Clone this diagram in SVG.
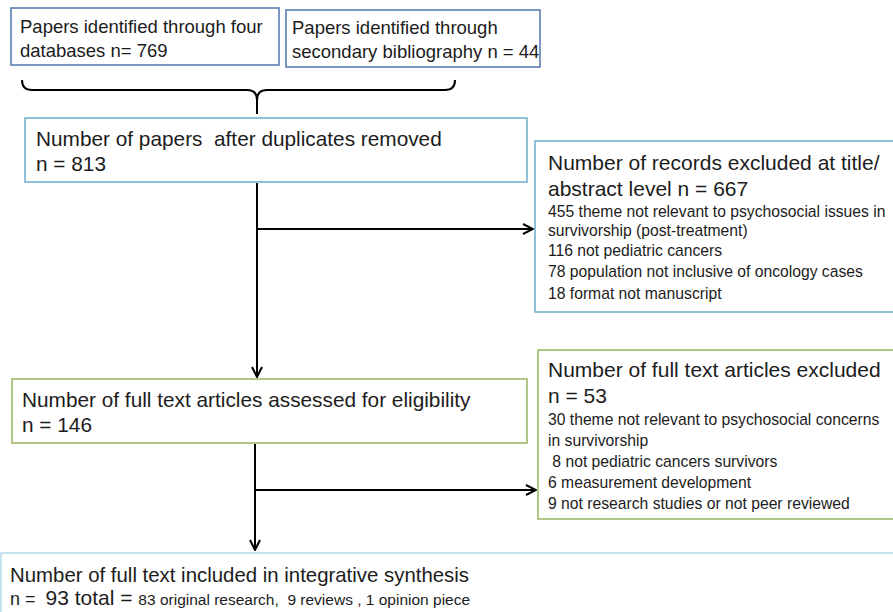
<svg xmlns="http://www.w3.org/2000/svg" width="893" height="612" viewBox="0 0 893 612">
<style>
  text { font-family: "Liberation Sans", Arial, sans-serif; fill: #1c1c1c; white-space: pre; }
  .t18 { font-size: 18.5px; }
  .t20 { font-size: 20.8px; }
  .t21 { font-size: 21px; }
  .s { font-size: 15.7px; }
  .bx { fill: #ffffff; stroke-width: 1.6; }
  .blue { stroke: #5a7db3; }
  .teal { stroke: #72b1cf; }
  .green { stroke: #9fba6a; }
  .lblue { stroke: #b5dbea; }
  .conn { fill: none; stroke: #000; stroke-width: 2; }
</style>
<defs>
  <marker id="arr" viewBox="0 0 12 12" refX="11" refY="6" markerWidth="12" markerHeight="12" markerUnits="userSpaceOnUse" orient="auto">
    <path d="M1,1 L11,6 L1,11" fill="none" stroke="#000" stroke-width="2"/>
  </marker>
</defs>
<rect width="893" height="612" fill="#ffffff"/>

<g id="connectors">
  <path class="conn" d="M22,80 Q22,90 32,90 L247,90 Q257,90 257,100 L257,114 M257,100 Q257,90 267,90 L445,90 Q455,90 455,80"/>
  <path class="conn" d="M257,183 L257,377" marker-end="url(#arr)"/>
  <path class="conn" d="M257,229 L533,229" marker-end="url(#arr)"/>
  <path class="conn" d="M255,444 L255,550" marker-end="url(#arr)"/>
  <path class="conn" d="M255,490 L536,490" marker-end="url(#arr)"/>
</g>

<g id="databases">
  <rect class="bx blue" x="11" y="8" width="268" height="57"/>
  <text class="t18" x="20" y="33">Papers identified through four</text>
  <text class="t18" x="20" y="57">databases n= 769</text>
</g>

<g id="secondary">
  <rect class="bx blue" x="286" y="10" width="254" height="57"/>
  <text class="t18" x="292" y="34">Papers identified through</text>
  <text class="t18" x="292" y="58">secondary bibliography n = 44</text>
</g>

<g id="duplicates">
  <rect class="bx teal" x="25" y="118" width="502" height="64"/>
  <text class="t20" x="36" y="146">Number of papers  after duplicates removed</text>
  <text class="t20" x="36" y="171">n = 813</text>
</g>

<g id="excluded-title">
  <rect class="bx teal" x="535" y="141" width="370" height="171"/>
  <text class="t21" x="548" y="170">Number of records excluded at title/</text>
  <text class="t21" x="548" y="196">abstract level n = 667</text>
  <text class="s" x="548" y="217">455 theme not relevant to psychosocial issues in</text>
  <text class="s" x="548" y="236">survivorship (post-treatment)</text>
  <text class="s" x="548" y="256">116 not pediatric cancers</text>
  <text class="s" x="548" y="277">78 population not inclusive of oncology cases</text>
  <text class="s" x="548" y="299">18 format not manuscript</text>
</g>

<g id="assessed">
  <rect class="bx green" x="12" y="379" width="515" height="64"/>
  <text class="t20" x="22" y="407">Number of full text articles assessed for eligibility</text>
  <text class="t20" x="22" y="432">n = 146</text>
</g>

<g id="excluded-full">
  <rect class="bx green" x="538" y="350" width="367" height="169"/>
  <text class="t21" x="548" y="377">Number of full text articles excluded</text>
  <text class="t21" x="548" y="403">n = 53</text>
  <text class="s" x="548" y="425">30 theme not relevant to psychosocial concerns</text>
  <text class="s" x="548" y="446">in survivorship</text>
  <text class="s" x="548" y="467"> 8 not pediatric cancers survivors</text>
  <text class="s" x="548" y="488">6 measurement development</text>
  <text class="s" x="548" y="509">9 not research studies or not peer reviewed</text>
</g>

<g id="included">
  <rect class="bx lblue" x="1" y="553" width="905" height="70"/>
  <text x="10" y="582" font-size="20.4">Number of full text included in integrative synthesis</text>
  <text x="10" y="605"><tspan font-size="18">n =  </tspan><tspan font-size="21">93 total = </tspan><tspan font-size="15.5">83 original research,  9 reviews , 1 opinion piece</tspan></text>
</g>
</svg>
